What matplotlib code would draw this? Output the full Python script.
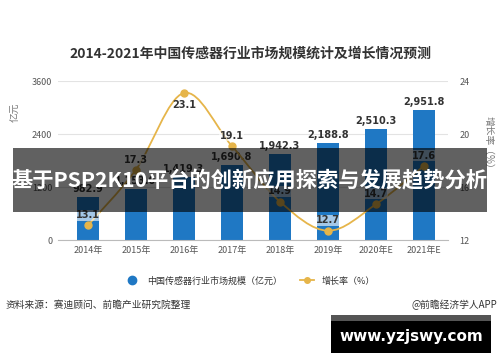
import matplotlib
matplotlib.use('Agg')
import matplotlib.pyplot as plt
import numpy as np
from matplotlib.path import Path
from matplotlib.patches import PathPatch, Rectangle
from matplotlib.lines import Line2D

plt.rcParams['font.family'] = ['Noto Sans CJK SC', 'DejaVu Sans']

# data
years = ['2014年', '2015年', '2016年', '2017年', '2018年', '2019年', '2020年E', '2021年E']
market = [982.9, 1153.0, 1419.3, 1690.8, 1942.3, 2188.8, 2510.3, 2951.8]
growth = [13.1, 17.3, 23.1, 19.1, 14.9, 12.7, 14.7, 17.6]

BLUE = '#1f78c4'
GOLD = '#e6b54a'

fig = plt.figure(figsize=(5, 3.62), dpi=100)
fig.patch.set_facecolor('white')

ax = fig.add_axes([0.116, 0.337, 0.78, 0.439])
x = np.arange(len(years))
ax.bar(x, market, width=0.46, color=BLUE, zorder=2)
ax.set_ylim(0, 3600)
ax.set_xlim(-0.62, 7.5)
ax.set_yticks([0, 1200, 2400, 3600])
ax.set_xticks(x)
ax.set_xticklabels(years)
ax.tick_params(axis='both', length=0, labelsize=6.5, colors='#555555', pad=4)
ax.grid(axis='y', color='#e3e3e3', lw=0.8, zorder=0)
for s in ['top', 'right', 'left']:
    ax.spines[s].set_visible(False)
ax.spines['bottom'].set_color('#bbbbbb')
for xi, v in zip(x, market):
    ax.text(xi, v + 70, f'{v:,.1f}', ha='center', va='bottom', fontsize=7,
            fontweight='bold', color='#333333', family='DejaVu Sans')

ax2 = ax.twinx()
ax2.set_ylim(12, 24)
ax2.set_yticks([12, 16, 20, 24])
ax2.tick_params(axis='y', length=0, labelsize=6.5, colors='#555555', pad=8)
for s in ax2.spines.values():
    s.set_visible(False)

# smooth curve through the growth points (catmull-rom as bezier path)
pts = np.column_stack([x, growth]).astype(float)
verts = [pts[0]]
codes = [Path.MOVETO]
for i in range(len(pts) - 1):
    p0 = pts[max(i - 1, 0)]
    p1 = pts[i]
    p2 = pts[i + 1]
    p3 = pts[min(i + 2, len(pts) - 1)]
    verts += [p1 + (p2 - p0) / 6, p2 - (p3 - p1) / 6, p2]
    codes += [Path.CURVE4] * 3
ax2.add_patch(PathPatch(Path(verts, codes), facecolor='none', edgecolor=GOLD, lw=1.3, zorder=3))
ax2.plot(x, growth, 'o', color=GOLD, ms=5, zorder=4)
for xi, g in zip(x, growth):
    if g == max(growth):
        ax2.text(xi, g - 0.5, f'{g}', ha='center', va='top', fontsize=7,
                 fontweight='bold', color='#333333', family='DejaVu Sans')
    else:
        ax2.text(xi, g + 0.4, f'{g}', ha='center', va='bottom', fontsize=7,
                 fontweight='bold', color='#333333', family='DejaVu Sans', zorder=5,
                 bbox=dict(boxstyle='square,pad=0.05', fc='white', ec='none', alpha=0.6))

fig.text(0.5, 0.853, '2014-2021年中国传感器行业市场规模统计及增长情况预测', ha='center',
         va='center', fontsize=10, fontweight='bold', color='#333333')
fig.text(0.032, 0.69, '亿元', rotation=90, ha='center', va='center', fontsize=7, color='#777777')
fig.text(0.978, 0.6, '增长率（%）', rotation=270, ha='center', va='center', fontsize=7, color='#777777')

# legend
handles = [Line2D([], [], marker='o', ls='none', color=BLUE, ms=6),
           Line2D([], [], marker='o', color=GOLD, ms=4, lw=1.3)]
fig.legend(handles, ['中国传感器行业市场规模（亿元）', '增长率（%）'], loc='center',
           bbox_to_anchor=(0.5, 0.224), ncol=2, frameon=False, fontsize=6.5,
           handlelength=1.6, columnspacing=2.0, labelcolor='#333333')

fig.text(0.012, 0.157, '资料来源：赛迪顾问、前瞻产业研究院整理', ha='left', va='center',
         fontsize=7, color='#333333')
fig.text(0.995, 0.157, '@前瞻经济学人APP', ha='right', va='center', fontsize=7, color='#333333')

# overlay band with headline
fig.patches.append(Rectangle((0.026, 1 - 212 / 362), 0.948, 64 / 362, transform=fig.transFigure,
                             facecolor='black', alpha=0.62, edgecolor='none', zorder=10))
fig.text(0.5, 1 - 181 / 362, '基于PSP2K10平台的创新应用探索与发展趋势分析', ha='center', va='center',
         fontsize=15.3, fontweight='bold', color='white', zorder=11)

# site box
fig.patches.append(Rectangle((331 / 500, 1 - 353 / 362), 160 / 500, 38 / 362, transform=fig.transFigure,
                             facecolor='black', edgecolor='none', zorder=10))
fig.patches.append(Rectangle((331 / 500, 1 - 321 / 362), 160 / 500, 6 / 362, transform=fig.transFigure,
                             facecolor='#555555', edgecolor='none', zorder=10))
fig.text(411 / 500, 1 - 336 / 362, 'www.yzjswy.com', ha='center', va='center', fontsize=11,
         fontweight='bold', color='white', family='DejaVu Sans', zorder=11)

fig.savefig('out.png', dpi=100)
